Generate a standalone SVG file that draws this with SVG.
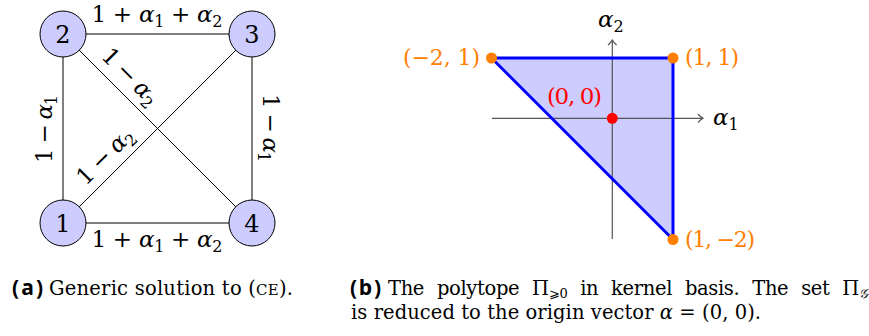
<svg xmlns="http://www.w3.org/2000/svg" width="869" height="336" viewBox="0 0 869 336">
<style>
  .edge{stroke:#000;stroke-width:1;fill:none}
  .node{fill:#ccccff;stroke:#000;stroke-width:1}
  .m{font-family:"DejaVu Serif","Liberation Serif",serif;font-size:23px;fill:#000}
  .i{font-style:italic}
  .s{font-size:16px}
  .nl{font-family:"DejaVu Serif","Liberation Serif",serif;font-size:24px;text-anchor:middle}
  .axis{stroke:#555;stroke-width:1.2;fill:none}
  .poly{fill:#ccccff;stroke:none}
  .border{stroke:#0000ff;stroke-width:3;fill:none;stroke-linejoin:round}
  .v{fill:#ff8000}
  .ol{fill:#ff8000;font-size:22px}
  .red{fill:#ff0000}
  .cap{font-family:"DejaVu Serif","Liberation Serif",serif;font-size:19.5px;fill:#000}
  .lab{font-family:"Open Sans","DejaVu Sans",sans-serif;font-weight:700;font-size:21px;fill:#000}
</style>

<!-- (a) graph -->
<g id="connectors">
  <line class="edge" x1="63" y1="34" x2="252" y2="34"/>
  <line class="edge" x1="63" y1="223" x2="252" y2="223"/>
  <line class="edge" x1="63" y1="34" x2="63" y2="223"/>
  <line class="edge" x1="252" y1="34" x2="252" y2="223"/>
  <line class="edge" x1="63" y1="34" x2="252" y2="223"/>
  <line class="edge" x1="63" y1="223" x2="252" y2="34"/>
</g>
<g id="edge-labels">
  <text class="m" x="157" y="21.5" text-anchor="middle" textLength="131">1 + <tspan class="i">α</tspan><tspan class="s" dy="5">1</tspan><tspan dy="-5"> + </tspan><tspan class="i">α</tspan><tspan class="s" dy="5">2</tspan></text>
  <text class="m" x="157" y="247" text-anchor="middle" textLength="131">1 + <tspan class="i">α</tspan><tspan class="s" dy="5">1</tspan><tspan dy="-5"> + </tspan><tspan class="i">α</tspan><tspan class="s" dy="5">2</tspan></text>
  <text class="m" transform="translate(63,129) rotate(-90)" x="0" y="-11" text-anchor="middle" textLength="68">1 − <tspan class="i">α</tspan><tspan class="s" dy="5">1</tspan></text>
  <text class="m" transform="translate(252,128) rotate(90)" x="0" y="-11" text-anchor="middle" textLength="68">1 − <tspan class="i">α</tspan><tspan class="s" dy="5">1</tspan></text>
  <text class="m" transform="translate(118,89) rotate(45)" x="0" y="-10" text-anchor="middle" textLength="70">1 − <tspan class="i">α</tspan><tspan class="s" dy="5">2</tspan></text>
  <text class="m" transform="translate(117.5,168.5) rotate(-45)" x="0" y="-10" text-anchor="middle" textLength="70">1 − <tspan class="i">α</tspan><tspan class="s" dy="5">2</tspan></text>
</g>
<g id="n2"><circle class="node" cx="63" cy="34" r="23"/><text class="nl" x="63" y="43">2</text></g>
<g id="n3"><circle class="node" cx="252" cy="34" r="23"/><text class="nl" x="252" y="43">3</text></g>
<g id="n1"><circle class="node" cx="63" cy="223" r="23"/><text class="nl" x="63" y="232">1</text></g>
<g id="n4"><circle class="node" cx="252" cy="223" r="23"/><text class="nl" x="252" y="232">4</text></g>

<!-- (b) polytope -->
<polygon class="poly" points="491.5,58 673,58 673,239.5"/>
<g id="axes">
  <line class="axis" x1="492" y1="118.3" x2="703" y2="118.3"/>
  <path class="axis" d="M698,114 Q700.5,117 703,118.3 Q700.5,119.6 698,122.6"/>
  <line class="axis" x1="612.3" y1="239" x2="612.3" y2="40"/>
  <path class="axis" d="M608,45 Q611,42.5 612.3,40 Q613.6,42.5 616.6,45"/>
  <text class="m" x="713" y="125"><tspan class="i">α</tspan><tspan class="s" dy="5">1</tspan></text>
  <text class="m" x="598" y="27"><tspan class="i">α</tspan><tspan class="s" dy="5">2</tspan></text>
</g>
<polygon class="border" points="491.5,58 673,58 673,239.5"/>
<g id="vertices">
  <circle class="v" cx="491.5" cy="58" r="5.5"/>
  <circle class="v" cx="673" cy="58" r="5.5"/>
  <circle class="v" cx="673" cy="239.5" r="5.5"/>
  <circle class="red" cx="612.3" cy="118.3" r="5.5"/>
  <text class="m ol" x="480" y="65" text-anchor="end" textLength="77">(−2, 1)</text>
  <text class="m ol" x="685" y="65" textLength="54">(1, 1)</text>
  <text class="m ol" x="685" y="247" textLength="70">(1, −2)</text>
  <text class="m red" x="547" y="104" font-size="22" textLength="55">(0, 0)</text>
</g>

<!-- captions -->
<text class="lab" x="12" y="295" textLength="31">(a)</text>
<text class="cap" x="49" y="295" textLength="244">Generic solution to (<tspan font-size="15">CE</tspan>).</text>
<text class="lab" x="350" y="295" textLength="31">(b)</text>
<text class="cap" x="388" y="295" word-spacing="7" textLength="480">The polytope Π<tspan font-size="13" dy="3">⩾0</tspan><tspan dy="-3"> in kernel basis. The set Π</tspan><tspan font-size="13" dy="3" class="i">𝒢</tspan></text>
<text class="cap" x="351" y="319" textLength="410">is reduced to the origin vector <tspan class="i">α</tspan> = (0, 0).</text>
</svg>
